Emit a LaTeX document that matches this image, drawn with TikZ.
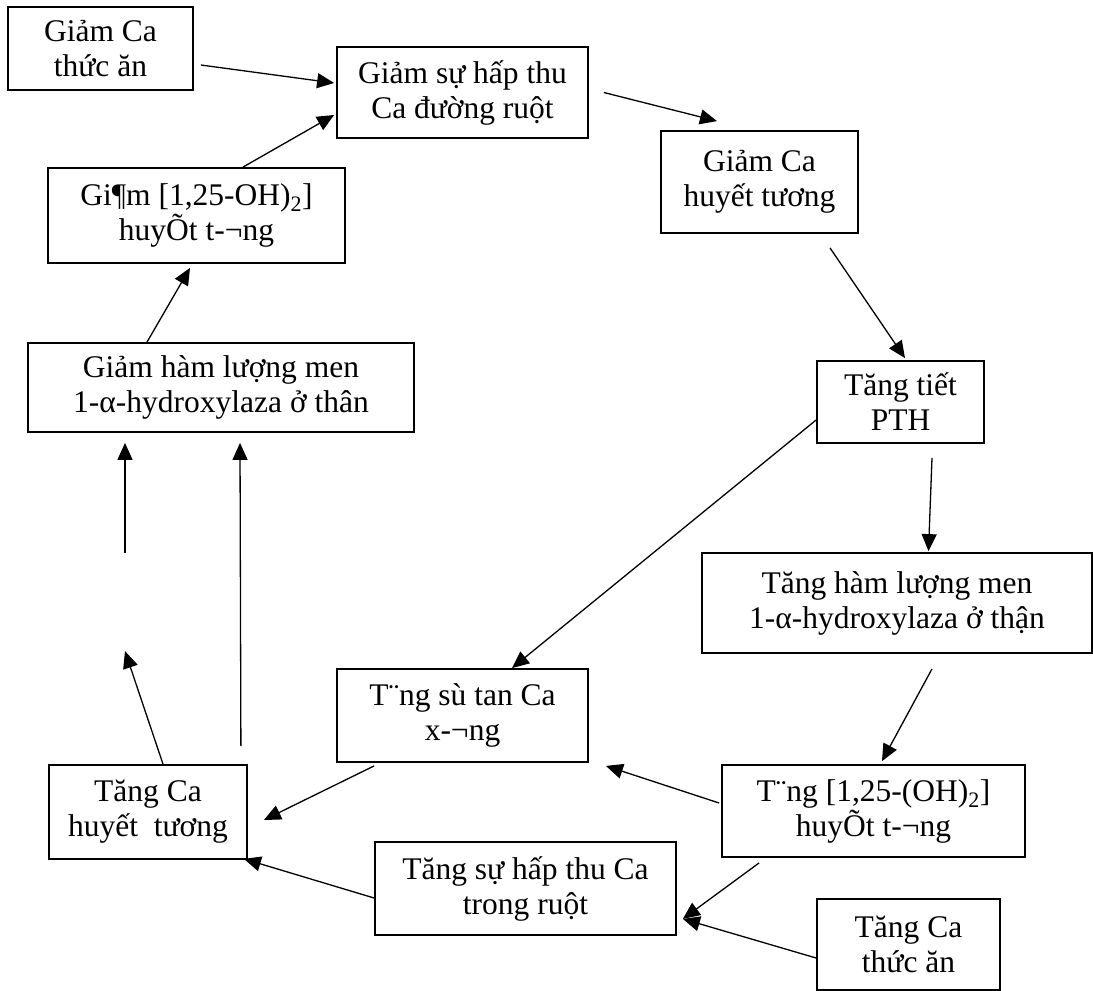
\documentclass[tikz,border=0pt]{standalone}
\usepackage{fontspec}
\setmainfont{Liberation Serif}
\usetikzlibrary{arrows.meta,calc}
\begin{document}
\begin{tikzpicture}[x=1pt,y=-1pt,
  box/.style={draw=black, line width=1.8pt, inner sep=0pt, align=center,
    font=\fontsize{31.5}{35}\selectfont},
  arr/.style={line width=1.3pt, -{Triangle[length=17pt,width=15pt]}},
  ln/.style={line width=1.3pt}]
\useasboundingbox[fill=white] (0,0) rectangle (1093,991);
% boxes
\node[box, minimum width=185pt, minimum height=83pt] (n1) at (100.5,48.5) {Giảm Ca\\thức ăn};
\node[box, minimum width=251pt, minimum height=91pt] (n2) at (462.5,92.5) {Giảm sự hấp thu\\Ca đường ruột};
\node[box, minimum width=297pt, minimum height=95pt] (n3) at (196.5,215.5) {Gi¶m [1,25-OH)\textsubscript{2}]\\huyÕt t-¬ng};
\node[box, minimum width=386pt, minimum height=89pt] (n4) at (221,387.5) {Giảm hàm lượng men\\1-α-hydroxylaza ở thân};
\node[box, minimum width=197pt, minimum height=102pt] (n5) at (759.5,182) {Giảm Ca\\huyết tương};
\node[box, minimum width=167pt, minimum height=82pt] (n6) at (900.5,402) {Tăng tiết\\PTH};
\node[box, minimum width=390pt, minimum height=100pt] (n7) at (897,603) {Tăng hàm lượng men\\1-α-hydroxylaza ở thận};
\node[box, minimum width=251pt, minimum height=93pt] (n8) at (462.5,715.5) {T¨ng sù tan Ca\\x-¬ng};
\node[box, minimum width=303pt, minimum height=92pt] (n9) at (873.5,811) {T¨ng [1,25-(OH)\textsubscript{2}]\\huyÕt t-¬ng};
\node[box, minimum width=198pt, minimum height=94pt] (n10) at (148,812) {Tăng Ca\\huyết\ \ tương};
\node[box, minimum width=301pt, minimum height=93pt] (n11) at (525.5,888.5) {Tăng sự hấp thu Ca\\trong ruột};
\node[box, minimum width=183pt, minimum height=91pt] (n12) at (908.5,944.5) {Tăng Ca\\thức ăn};
% free ends
\coordinate (f1) at ([shift={(-23,-113)}]n10.north);
\coordinate (f2) at ([shift={(-96,120)}]n4.south);
% connectors
\draw[arr] ([shift={(7,16.5)}]n1.east) -- ([shift={(-2,-9.5)}]n2.west);
\draw[arr] ([shift={(46.5,0)}]n3.north) -- ([shift={(-2,22.5)}]n2.west);
\draw[arr] ([shift={(15,0)}]n2.east) -- ([shift={(-42.5,-9)}]n5.north);
\draw[arr] ([shift={(70.5,14)}]n5.south) -- ([shift={(4.5,-2)}]n6.north);
\draw[arr] ([shift={(31.5,14)}]n6.south) -- ([shift={(31.5,-1)}]n7.north);
\draw[arr] ([shift={(0,18)}]n6.west) -- ([shift={(49.5,0)}]n8.north);
\draw[arr] ([shift={(35,15)}]n7.south) -- ([shift={(8.5,-3)}]n9.north);
\draw[arr] ([shift={(-2,-8)}]n9.west) -- ([shift={(17,3)}]n8.south east);
\draw[arr] ([shift={(38,5)}]n9.south west) -- ([shift={(6,-17)}]n11.south east);
\draw[arr] ([shift={(0,13.5)}]n12.west) -- ([shift={(6,-17)}]n11.south east);
\draw[arr] ([shift={(38,3)}]n8.south west) -- ([shift={(16,8)}]n10.east);
\draw[arr] ([shift={(0,9.5)}]n11.west) -- ([shift={(-4,-1)}]n10.south east);
\draw[arr] ([shift={(15,0)}]n10.north) -- (f1);
\draw[arr] (f2) -- ([shift={(-96,10)}]n4.south);
\draw[arr] ([shift={(-7,-18)}]n10.north east) -- ([shift={(19,10)}]n4.south);
\draw[arr] ([shift={(-74,0)}]n4.north) -- ([shift={(-6.5,4)}]n3.south);
\end{tikzpicture}
\end{document}
